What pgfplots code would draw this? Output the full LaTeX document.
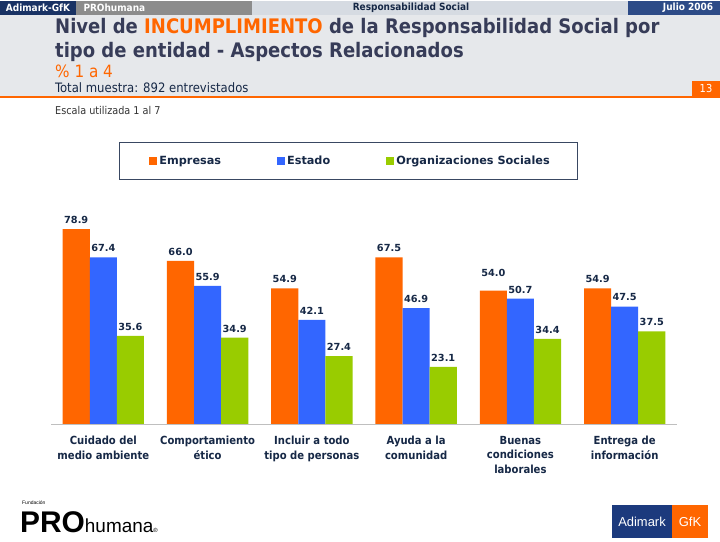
\documentclass[border=0pt]{standalone}
\usepackage{fontspec}
\setmainfont{DejaVu Sans}
\newfontfamily\cond{DejaVu Sans Condensed}
\newfontfamily\arial{Liberation Sans}
\usepackage{pgfplots}
\pgfplotsset{compat=1.18}
\usepackage{pgfplotstable}
\definecolor{corange}{RGB}{255,102,0}
\definecolor{cblue}{RGB}{51,102,255}
\definecolor{cgreen}{RGB}{153,204,0}
\definecolor{navy}{RGB}{22,40,70}
\definecolor{titlec}{RGB}{55,60,88}
\definecolor{hdrnavy}{RGB}{25,50,100}
\definecolor{hdrnavyb}{RGB}{45,75,135}
\definecolor{hdrgray}{RGB}{140,140,140}
\definecolor{hdrlight}{RGB}{214,219,226}
\definecolor{bandbg}{RGB}{230,232,235}
\definecolor{logoblue}{RGB}{28,58,125}
\pgfplotstableread{
x emp est org off
0 78.9 67.4 35.6 0
1 66.0 55.9 34.9 0
2 54.9 42.1 27.4 0
3 67.5 46.9 23.1 0
4 54.0 50.7 34.4 8
5 54.9 47.5 37.5 0
}\datatable
\begin{document}
\begin{tikzpicture}[x=1bp,y=1bp]
\fill[white] (0,0) rectangle (720,540);
% header
\fill[hdrnavy] (0,526) rectangle (76,540);
\node[text=white,font=\cond\bfseries\fontsize{10}{11}\selectfont] at (38,533) {Adimark-GfK};
\fill[hdrgray] (76,526) rectangle (252,540);
\node[anchor=west,text=white,font=\cond\bfseries\fontsize{10}{11}\selectfont] at (80,533) {PROhumana};
\fill[hdrlight] (252,526) rectangle (628,540);
\node[text=navy,font=\cond\bfseries\fontsize{10}{11}\selectfont] at (411,533) {Responsabilidad Social};
\fill[hdrnavyb] (628,526) rectangle (720,540);
\node[text=white,font=\cond\bfseries\fontsize{10}{11}\selectfont] at (688,533) {Julio 2006};
\fill[bandbg] (0,444) rectangle (720,526);
\fill[corange] (0,443) rectangle (720,445.5);
\fill[corange] (692,445) rectangle (720,460);
\node[text=white,font=\cond\fontsize{11}{12}\selectfont] at (706,452.5) {13};
% titles
\node[anchor=base west,inner sep=0pt,text=titlec,font=\cond\bfseries\fontsize{20.1}{22}\selectfont] at (55,508) {Nivel de \textcolor{corange}{INCUMPLIMIENTO} de la Responsabilidad Social por};
\node[anchor=base west,inner sep=0pt,text=titlec,font=\cond\bfseries\fontsize{20.1}{22}\selectfont] at (55,484) {tipo de entidad - Aspectos Relacionados};
\node[anchor=base west,inner sep=0pt,text=corange,font=\cond\fontsize{17}{19}\selectfont] at (55,464) {\% 1 a 4};
\node[anchor=base west,inner sep=0pt,text=navy,font=\cond\fontsize{13}{15}\selectfont] at (55,449) {Total muestra: 892 entrevistados};
\node[anchor=base west,inner sep=0pt,text=black!80,font=\cond\fontsize{10.8}{13}\selectfont] at (55,427) {Escala utilizada 1 al 7};
% legend frame
\draw[navy!85,line width=0.8bp] (119,362) rectangle (577,399);
\coordinate (axpos) at (51.2,117.3);
\begin{axis}[
  at={(axpos)}, anchor=south west,
  width=625.6bp, height=246.8bp, scale only axis,
  xmin=-0.5, xmax=5.5, ymin=0, ymax=100,
  ybar=0pt, bar width=27.1bp,
  axis x line*=bottom, axis y line=none,
  x axis line style={draw=black!25,-},
  xtick=data, major tick length=0pt, ytick=\empty,
  xticklabels={Cuidado del\\medio ambiente, Comportamiento\\ético, Incluir a todo\\tipo de personas, Ayuda a la\\comunidad, Buenas\\condiciones\\laborales, Entrega de\\información},
  xticklabel style={align=center, text=navy, font=\cond\bfseries\fontsize{11.2}{14.5}\selectfont, yshift=-9bp},
  clip=false,
  nodes near coords={\pgfmathprintnumber[fixed,fixed zerofill,precision=1,assume math mode=true]{\pgfplotspointmeta}},
  every node near coord/.append style={font=\bfseries\fontsize{9.8}{11}\selectfont, text=navy, yshift=2bp},
  legend columns=3,
  legend style={draw=none, fill=none, at={(axis description cs:0.152,1.066)}, anchor=west,
    font=\bfseries\fontsize{11.3}{13}\selectfont, text=navy,
    /tikz/every even column/.append style={column sep=54bp}},
  legend image code/.code={\fill[#1] (0bp,-4bp) rectangle (8bp,4bp);},
]
\addplot[fill=corange, draw=none,
  visualization depends on={\thisrow{off} \as \myoff},
  every node near coord/.append style={yshift=\myoff*1bp}] table[x=x,y=emp] {\datatable};
\addlegendentry{Empresas}
\addplot[fill=cblue, draw=none] table[x=x,y=est] {\datatable};
\addlegendentry{Estado}
\addplot[fill=cgreen, draw=none] table[x=x,y=org] {\datatable};
\addlegendentry{Organizaciones Sociales}
\end{axis}
% logos
\node[anchor=west,inner sep=0pt,font=\arial\fontsize{5}{6}\selectfont] at (22,38) {Fundación};
\node[anchor=base west,inner sep=0pt,font=\arial\bfseries\fontsize{30}{32}\selectfont] at (20,9) {PRO\fontsize{19}{20}\selectfont\mdseries humana\fontsize{6}{6}\selectfont ®};
\fill[logoblue] (612,3) rectangle (672,36);
\fill[corange] (672,3) rectangle (708,36);
\node[text=white,font=\arial\fontsize{13}{14}\selectfont] at (642,19.5) {Adimark};
\node[text=white,font=\arial\fontsize{13}{14}\selectfont] at (690,19.5) {GfK};
\end{tikzpicture}
\end{document}
